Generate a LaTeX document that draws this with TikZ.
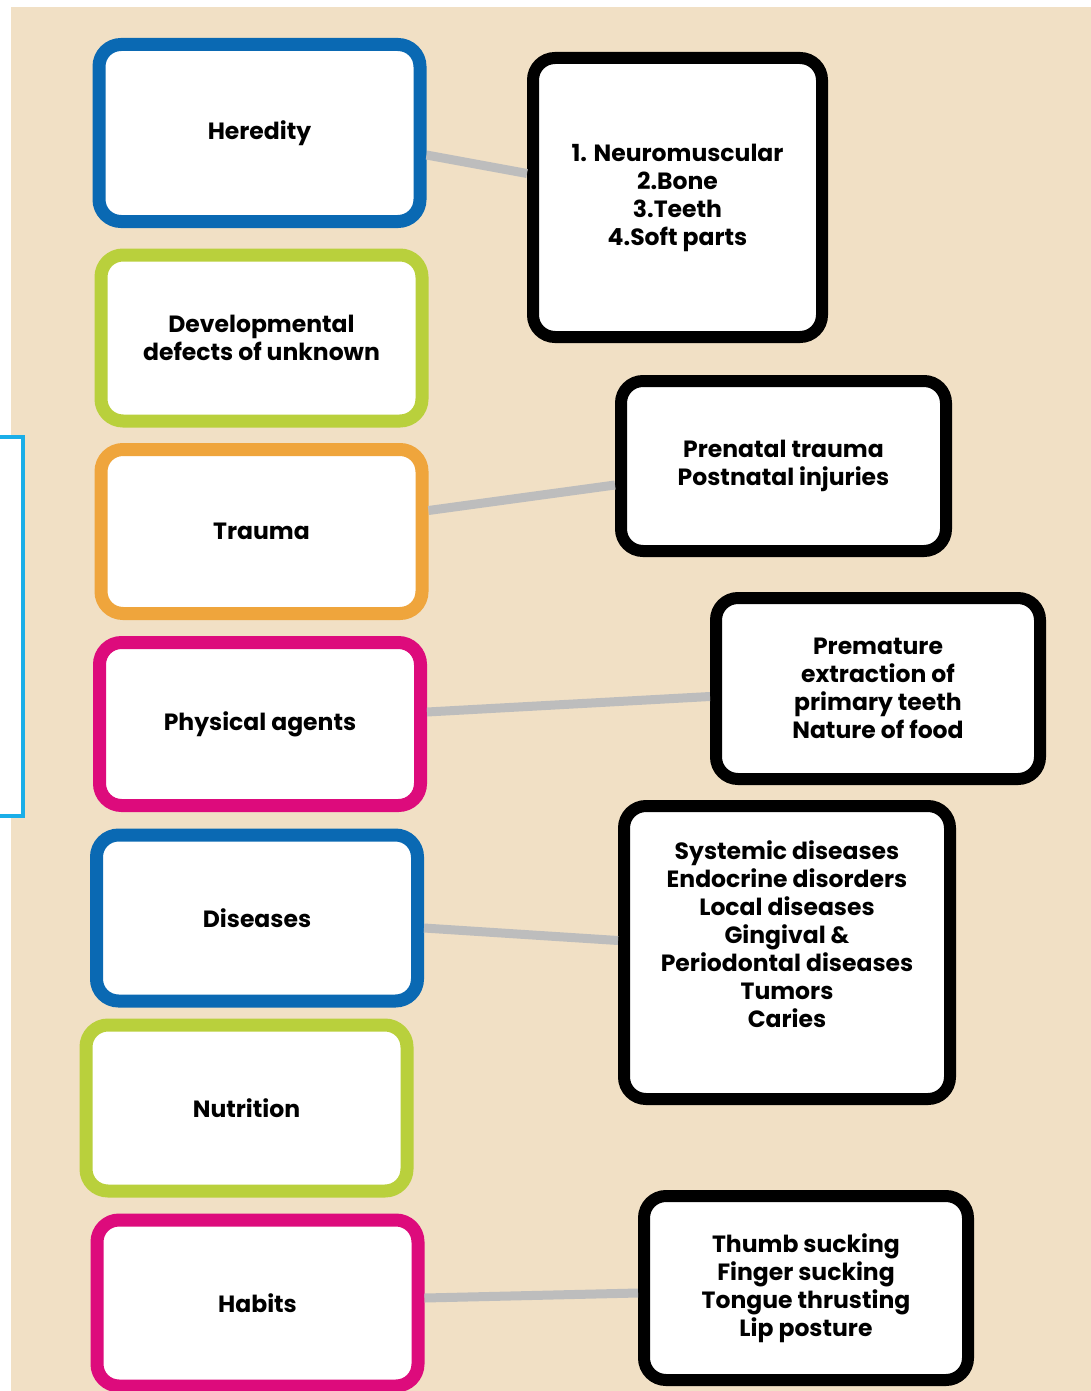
\documentclass[tikz,border=0pt]{standalone}
\usepackage{fontspec}
\setmainfont{Poppins}
\usetikzlibrary{positioning,calc}

\definecolor{bgbeige}{HTML}{F1E0C5}
\definecolor{cblue}{HTML}{0A69B3}
\definecolor{cgreen}{HTML}{B9D03C}
\definecolor{corange}{HTML}{EFA53C}
\definecolor{cpink}{HTML}{DD0B7C}
\definecolor{ccyan}{HTML}{1AAEE8}
\definecolor{linkgrey}{HTML}{BDBDBD}

\tikzset{
  cause/.style={draw, line width=13pt, rounded corners=22pt, fill=white,
    minimum width=321pt, minimum height=166pt, align=center,
    font=\fontsize{23.5}{28}\selectfont\bfseries},
  effect/.style={cause, draw=black, line width=12pt},
  link/.style={draw=linkgrey, line width=9pt}
}

\begin{document}
\begin{tikzpicture}[x=1pt,y=-1pt]
  \useasboundingbox (0,0) rectangle (1091,1391);
  \fill[white] (0,0) rectangle (1091,1391);
  \fill[bgbeige] (11,7) rectangle (1091,1391);
  \draw[ccyan, line width=4pt, fill=white] (-20,437) rectangle (23,816);

  % causes
  \node[cause, draw=cblue, minimum height=177pt] (her) at (259.5,133) {Heredity};
  \node[cause, draw=cgreen] (dev) at (261.5,338) {Developmental\\defects of unknown};
  \node[cause, draw=corange, minimum height=164pt] (tra) at (261.5,531.5) {Trauma};
  \node[cause, draw=cpink, minimum height=163pt] (phy) at (260,724) {Physical agents};
  \node[cause, draw=cblue] (dis) at (257,918) {Diseases};
  \node[cause, draw=cgreen] (nut) at (246.5,1108) {Nutrition};
  \node[cause, draw=cpink] (hab) at (257.5,1303) {Habits};

  % effects
  \node[effect, minimum width=289pt, minimum height=279pt] (neu) at (677.5,197.5)
    {1. Neuromuscular\\2.Bone\\3.Teeth\\4.Soft parts};
  \node[effect, minimum width=325pt, minimum height=170pt] (pre) at (783.5,466)
    {Prenatal trauma\\Postnatal injuries};
  \node[effect, minimum width=324pt, minimum height=181pt] (ext) at (878,688.5)
    {Premature\\extraction of\\primary teeth\\Nature of food};
  \node[effect, minimum width=326pt, minimum height=293pt, text depth=36pt] (sys) at (787,952.5)
    {Systemic diseases\\Endocrine disorders\\Local diseases\\Gingival \&\\Periodontal diseases\\Tumors\\Caries};
  \node[effect, minimum width=324pt, minimum height=184pt] (thu) at (806,1288)
    {Thumb sucking\\Finger sucking\\Tongue thrusting\\Lip posture};

  % links
  \draw[link] ($(her.east)+(0,22)$) -- ($(neu.west)+(0,-24)$);
  \draw[link] ($(tra.east)+(0,-21)$) -- ($(pre.west)+(0,19)$);
  \draw[link] ($(phy.east)+(0,-12)$) -- ($(ext.west)+(0,8)$);
  \draw[link] ($(dis.east)+(0,10)$) -- ($(sys.west)+(0,-12)$);
  \draw[link] ($(hab.east)+(0,-5)$) -- ($(thu.west)+(0,5)$);
\end{tikzpicture}
\end{document}
